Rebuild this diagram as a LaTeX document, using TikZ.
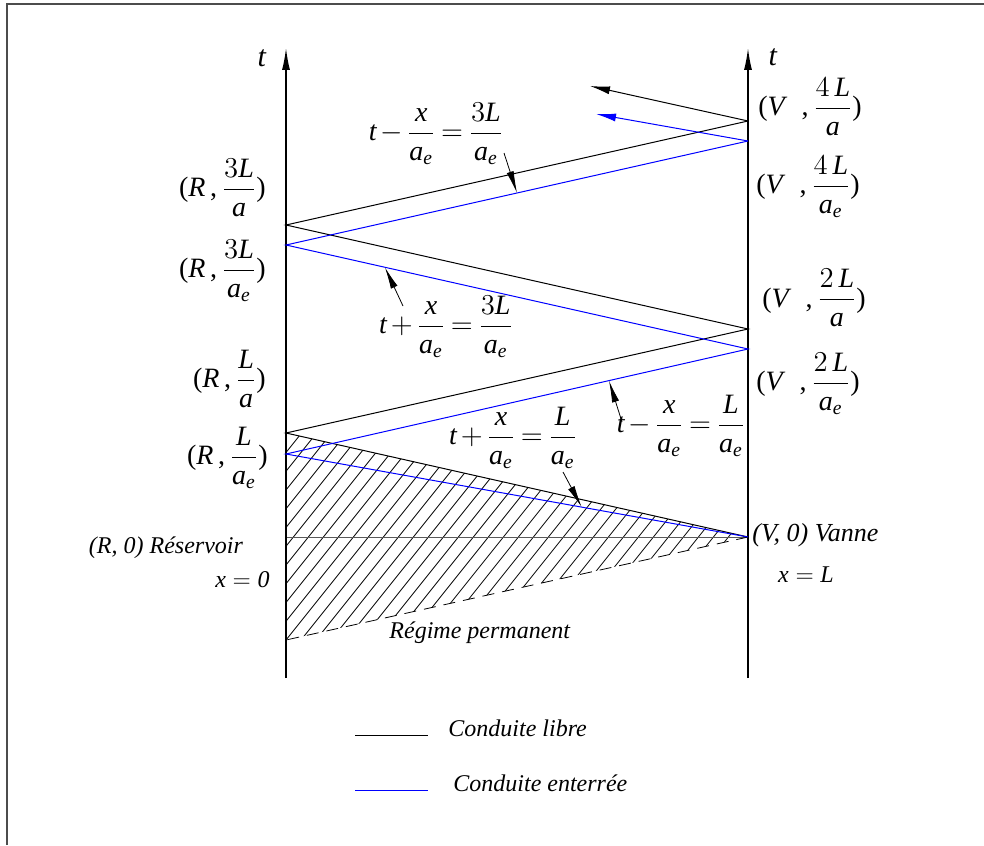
\documentclass[tikz,border=0pt]{standalone}
\usepackage{amsmath}
\usepackage{fontspec}
\setmainfont{Liberation Serif}
\usetikzlibrary{arrows.meta, calc}

\newcommand{\aen}{\textit{a}_{\textit{e}}}
\newcommand{\pnt}[3]{(\textit{#1}\,,\,$\dfrac{#2}{#3}$)}
\newcommand{\pntv}[3]{(\textit{#1}\ \ ,\,$\dfrac{#2}{#3}$)}
\newcommand{\eqfont}{\fontsize{14}{16}\selectfont\medmuskip=2.5mu\relax\thickmuskip=3.5mu\relax}

\begin{document}
\begin{tikzpicture}[
    x=0.5pt, y=-0.5pt,
    font=\fontsize{12}{14}\selectfont,
    axis/.style={line width=0.7pt, -{Latex[length=11pt, width=4pt]}},
    libre/.style={black, line width=0.5pt},
    enterree/.style={blue, line width=0.5pt},
    hatch/.style={line width=0.4pt},
    pointer/.style={line width=0.4pt, -{Latex[length=11pt, width=3.6pt]}},
    lbl/.style={inner sep=0pt},
    frlbl/.style={inner sep=0pt, font=\eqfont}
]
\useasboundingbox (0,0) rectangle (984,845);
\draw[line width=1pt, gray!60!black] (7,845) -- (7,4) -- (984,4);

% points on the two walls
\coordinate (Rbot) at (286,678);  \coordinate (Rtop) at (286,48);
\coordinate (Vbot) at (748,678);  \coordinate (Vtop) at (748,48);
\coordinate (R0) at (286,537);    \coordinate (V0) at (748,537);
\coordinate (Rperm) at (286,640);
\coordinate (R1) at (286,433);    \coordinate (R1e) at (286,454);
\coordinate (V2) at (748,329);    \coordinate (V2e) at (748,349);
\coordinate (R3) at (286,225);    \coordinate (R3e) at (286,245);
\coordinate (V4) at (748,121);    \coordinate (V4e) at (748,141);
\coordinate (E1) at (590,86);     \coordinate (E2) at (596,114);

% regime permanent
\begin{scope}
    \clip (R1) -- (V0) -- (Rperm) -- cycle;
    \foreach \k in {0,...,44}
        \draw[hatch] (60+\k*15,660) -- ++(240,-300);
\end{scope}
\draw[libre, gray!70!black] (R0) -- (V0);
\draw[hatch, dash pattern=on 6pt off 4pt] (V0) -- (Rperm);

\draw[axis] (Rbot) -- (Rtop);
\draw[axis] (Vbot) -- (Vtop);
\node[lbl, font=\fontsize{15}{17}\selectfont] (tR) at (262,58) {\textit{t}};
\node[lbl, font=\fontsize{15}{17}\selectfont] (tV) at (773,57) {\textit{t}};

% characteristics
\draw[libre] (V0) -- (R1) -- (V2) -- (R3) -- (V4);
\draw[libre, -{Latex[length=10pt, width=4pt]}] (V4) -- (E1);
\draw[enterree] (V0) -- (R1e) -- (V2e) -- (R3e) -- (V4e);
\draw[enterree, -{Latex[length=10pt, width=4pt]}] (V4e) -- (E2);

% labels
\node[frlbl, anchor=west] (pV4) at (758,107) {\pntv{V}{4\,\textit{L}}{\textit{a}}};
\node[frlbl, anchor=west] (pV4e) at (756,187) {\pntv{V}{4\,\textit{L}}{\aen}};
\node[frlbl, anchor=west] (pV2) at (762,298) {\pntv{V}{2\,\textit{L}}{\textit{a}}};
\node[frlbl, anchor=west] (pV2e) at (756,384) {\pntv{V}{2\,\textit{L}}{\aen}};
\node[frlbl, anchor=east] (pR3) at (266,188) {\pnt{R}{3\textit{L}}{\textit{a}}};
\node[frlbl, anchor=east] (pR3e) at (266,271) {\pnt{R}{3\textit{L}}{\aen}};
\node[frlbl, anchor=east] (pR1) at (266,379) {\pnt{R}{\textit{L}}{\textit{a}}};
\node[frlbl, anchor=east] (pR1e) at (268,458) {\pnt{R}{\textit{L}}{\aen}};
\node[lbl] (res) at (166,548) {\textit{(R, 0) Réservoir}};
\node[lbl, anchor=east] (x0) at (270,580) {$\textit{x} = \textit{0}$};
\node[lbl, anchor=west, font=\fontsize{13}{15}\selectfont] (van) at (752,535) {\textit{(V, 0) Vanne}};
\node[lbl] (xL) at (806,575) {$\textit{x} = \textit{L}$};
\node[lbl] (perm) at (480,633) {\textit{Régime permanent}};

\node[frlbl] (eq1) at (436,134) {$\textit{t} - \dfrac{\textit{x}}{\aen} = \dfrac{3\textit{L}}{\aen}$};
\node[frlbl] (eq2) at (446,327) {$\textit{t} + \dfrac{\textit{x}}{\aen} = \dfrac{3\textit{L}}{\aen}$};
\node[frlbl] (eq3) at (513,438) {$\textit{t} + \dfrac{\textit{x}}{\aen} = \dfrac{\textit{L}}{\aen}$};
\node[frlbl] (eq4) at (681,426) {$\textit{t} - \dfrac{\textit{x}}{\aen} = \dfrac{\textit{L}}{\aen}$};

\coordinate (a1) at (504,153);  \coordinate (a2) at (403,306);
\coordinate (a3) at (622,422);  \coordinate (a4) at (563,472);
\draw[pointer] (a1) -- ($(R3e)!0.5!(V4e)$);
\draw[pointer] (a2) -- ($(R3e)!0.214!(V2e)$);
\draw[pointer] (a3) -- ($(R1e)!0.699!(V2e)$);
\draw[pointer] (a4) -- ($(R1e)!0.64!(V0)$);

% legend
\coordinate (k1) at (355,735);  \coordinate (k2) at (428,735);
\coordinate (k3) at (355,790);  \coordinate (k4) at (428,790);
\draw[libre] (k1) -- (k2);
\draw[enterree] (k3) -- (k4);
\node[lbl, anchor=west] (leg1) at (448,728) {\textit{Conduite libre}};
\node[lbl, anchor=west] (leg2) at (453,783) {\textit{Conduite enterrée}};
\end{tikzpicture}
\end{document}
